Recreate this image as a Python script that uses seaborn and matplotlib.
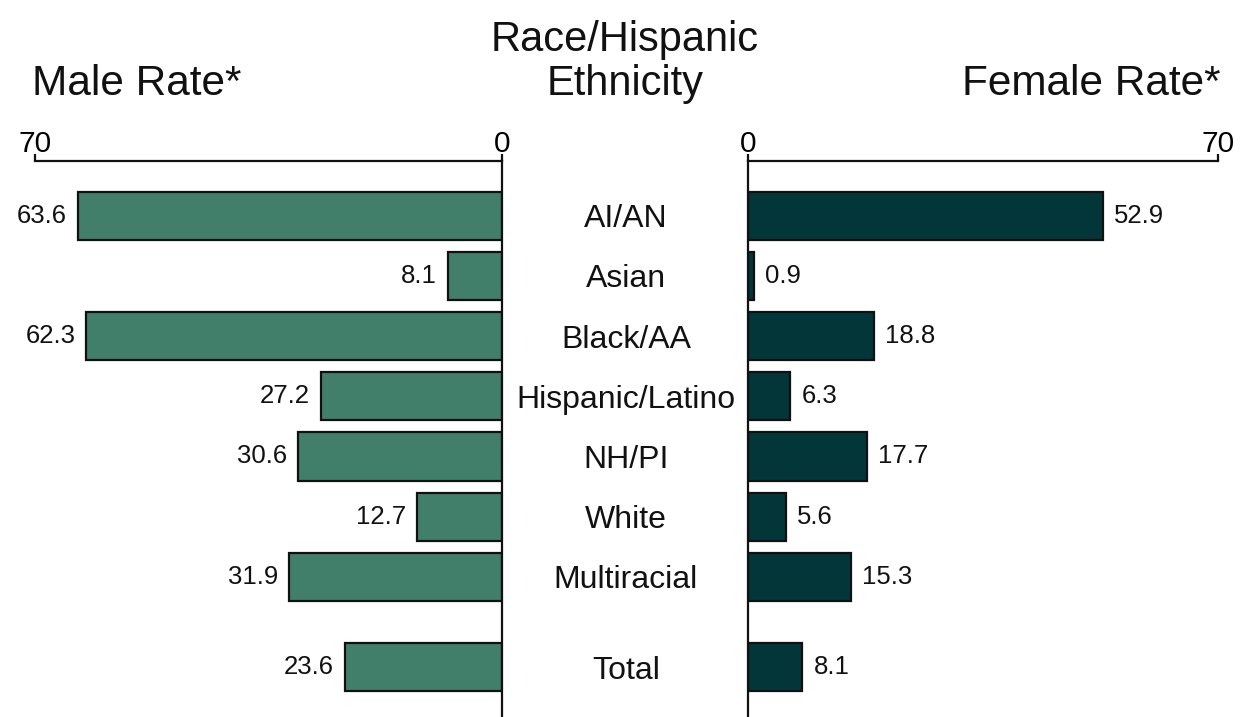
import pandas as pd
import seaborn as sns
import matplotlib.pyplot as plt
from matplotlib.transforms import blended_transform_factory

# data
groups = ['AI/AN', 'Asian', 'Black/AA', 'Hispanic/Latino', 'NH/PI', 'White', 'Multiracial', 'Total']
male_rate = [63.6, 8.1, 62.3, 27.2, 30.6, 12.7, 31.9, 23.6]
female_rate = [52.9, 0.9, 18.8, 6.3, 17.7, 5.6, 15.3, 8.1]
# row positions: Total is set apart from the others
row_pos = [0, 1, 2, 3, 4, 5, 6, 7.5]

male_color = '#417F6B'
female_color = '#033638'

sns.set_theme(style='white')
plt.rcParams['font.family'] = ['Liberation Sans', 'DejaVu Sans']

df = pd.DataFrame({'group': groups, 'male': male_rate, 'female': female_rate, 'pos': row_pos})

fig = plt.figure(figsize=(12.42, 7.17), dpi=100)
ax_m = fig.add_axes([35 / 1242, 0, 467 / 1242, 556 / 717])
ax_f = fig.add_axes([748 / 1242, 0, 470 / 1242, 556 / 717])


def draw_side(ax, col, color, inverted):
    sns.barplot(data=df, x=col, y='pos', orient='h', native_scale=True, width=0.8,
                color=color, edgecolor='#111111', linewidth=1.6, saturation=1, ax=ax)
    ax.set_ylim(8.33, -0.91)
    if inverted:
        ax.set_xlim(70, 0)
    else:
        ax.set_xlim(0, 70)
    ax.set_xticks([0, 70])
    ax.set_yticks([])
    ax.set_xlabel('')
    ax.set_ylabel('')
    ax.xaxis.tick_top()
    ax.tick_params(axis='x', top=True, bottom=False, direction='out', length=5, width=1.6,
                   color='#111111', labelsize=21.5, pad=-3, labelcolor='black')
    for s in ax.spines.values():
        s.set_visible(False)
    ax.spines['top'].set_visible(True)
    side = 'right' if inverted else 'left'
    ax.spines[side].set_visible(True)
    for s in ('top', side):
        ax.spines[s].set_color('#111111')
        ax.spines[s].set_linewidth(1.6)
    ax.set_facecolor('none')
    labels = [f'{v:.1f}' for v in df[col]]
    ax.bar_label(ax.containers[0], labels=labels, padding=8, fontsize=18.5, color='#111111')


draw_side(ax_m, 'male', male_color, True)
draw_side(ax_f, 'female', female_color, False)

# group names in the middle column
trans = blended_transform_factory(fig.transFigure, ax_m.transData)
for name, p in zip(groups, row_pos):
    ax_m.text(626 / 1242, p, name, transform=trans, ha='center', va='center_baseline',
              fontsize=23, color='#111111', clip_on=False)

fig.text(32 / 1242, 1 - 95 / 717, 'Male Rate*', ha='left', va='baseline', fontsize=30.5, color='#111111')
fig.text(1221 / 1242, 1 - 95 / 717, 'Female Rate*', ha='right', va='baseline', fontsize=30.5, color='#111111')
fig.text(625 / 1242, 1 - 51 / 717, 'Race/Hispanic', ha='center', va='baseline', fontsize=30, color='#111111')
fig.text(625 / 1242, 1 - 95 / 717, 'Ethnicity', ha='center', va='baseline', fontsize=30, color='#111111')

fig.savefig('out.png', dpi=100)
